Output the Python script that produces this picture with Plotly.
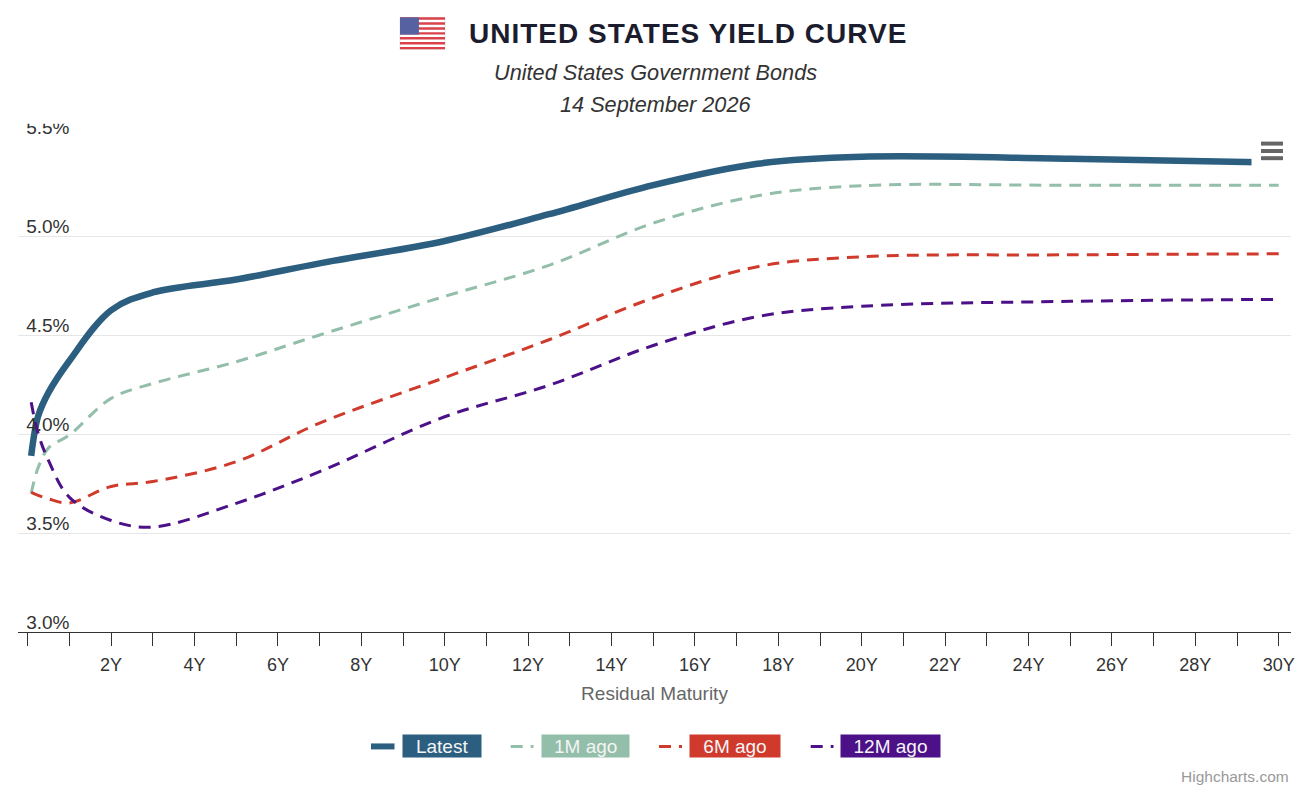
import plotly.graph_objects as go

# ---------------- data ----------------
MATURITIES = [0.083, 0.25, 0.5, 1, 2, 3, 5, 7, 10, 12.5, 15, 17.5, 20, 25, 30]
LATEST = [3.89, 4.09, 4.21, 4.37, 4.625, 4.715, 4.78, 4.862, 4.975, 5.11, 5.257, 5.365, 5.40, 5.39, 5.37]
M1_AGO = [3.70, 3.83, 3.93, 3.995, 4.18, 4.255, 4.365, 4.50, 4.695, 4.852, 5.065, 5.203, 5.254, 5.256, 5.256]
M6_AGO = [3.705, 3.69, 3.672, 3.652, 3.735, 3.76, 3.86, 4.055, 4.285, 4.476, 4.687, 4.845, 4.895, 4.905, 4.91]
M12_AGO = [4.16, 4.003, 3.865, 3.68, 3.563, 3.53, 3.65, 3.81, 4.087, 4.246, 4.447, 4.593, 4.645, 4.67, 4.68]

SERIES_NAMES = ["Latest", "1M ago", "6M ago", "12M ago"]
SERIES_COLORS = ["#2c5e80", "#93bea9", "#d03a2c", "#4c1088"]

X_TICK_VALS = list(range(0, 31))
X_TICK_TEXT = [f"{v}Y" if (v % 2 == 0 and v > 0) else "" for v in X_TICK_VALS]
Y_TICK_VALS = [3.0, 3.5, 4.0, 4.5, 5.0, 5.5]

TITLE = "UNITED STATES YIELD CURVE"
SUBTITLE_1 = "United States Government Bonds"
SUBTITLE_2 = "14 September 2026"
X_TITLE = "Residual Maturity"
CREDITS = "Highcharts.com"

FONT = "Liberation Sans, Arial, sans-serif"

# ---------------- layout geometry (page pixels) ----------------
PAGE_OFF = 8                      # default body margin of the html page
W_FIG, H_FIG = 1312 - PAGE_OFF, 796 - PAGE_OFF
L, R, T, B = 18, 1291, 136.7, 632  # plot area in page pixels
PW, PH = R - L, B - T


def px(x):
    return (x - L) / PW


def py(y):
    return (B - y) / PH


fig = go.Figure()

values = [LATEST, M1_AGO, M6_AGO, M12_AGO]
for i, (name, vals, col) in enumerate(zip(SERIES_NAMES, values, SERIES_COLORS)):
    fig.add_trace(go.Scatter(
        x=MATURITIES, y=vals, name=name, mode="lines",
        line=dict(color=col, width=6.5 if i == 0 else 3,
                  dash="solid" if i == 0 else "12px,8px",
                  shape="spline", smoothing=1.0),
        showlegend=False, hoverinfo="skip",
    ))

shapes = []
annotations = []

# Title flag (decoration)
fx0, fx1, fy0, fy1 = 400, 445, 17, 49
stripe_h = (fy1 - fy0) / 13
shapes.append(dict(type="rect", xref="paper", yref="paper", layer="above",
                   x0=px(fx0), x1=px(fx1), y0=py(fy1), y1=py(fy0),
                   fillcolor="#ffffff", line=dict(color="#cccccc", width=0.5)))
for k in range(0, 13, 2):
    shapes.append(dict(type="rect", xref="paper", yref="paper", layer="above",
                       x0=px(fx0), x1=px(fx1),
                       y0=py(fy0 + (k + 1) * stripe_h), y1=py(fy0 + k * stripe_h),
                       fillcolor="#d9414b", line=dict(width=0)))
shapes.append(dict(type="rect", xref="paper", yref="paper", layer="above",
                   x0=px(fx0), x1=px(fx0 + 0.42 * (fx1 - fx0)),
                   y0=py(fy0 + 7 * stripe_h), y1=py(fy0),
                   fillcolor="#5561a0", line=dict(width=0)))

# Title + subtitles
annotations.append(dict(
    xref="paper", yref="paper", x=px(688), y=py(33), xanchor="center", yanchor="middle",
    text=f"<span style='letter-spacing:1px'><b>{TITLE}</b></span>", showarrow=False,
    font=dict(family=FONT, size=28, color="#1b1d2e")))
annotations.append(dict(
    xref="paper", yref="paper", x=px(655.5), y=py(72), xanchor="center", yanchor="middle",
    text=f"<i>{SUBTITLE_1}</i>", showarrow=False,
    font=dict(family=FONT, size=21.7, color="#333333")))
annotations.append(dict(
    xref="paper", yref="paper", x=px(655.5), y=py(104), xanchor="center", yanchor="middle",
    text=f"<i>{SUBTITLE_2}</i>", showarrow=False,
    font=dict(family=FONT, size=21.7, color="#333333")))

# White mask that clips the top label (as in the reference) and the menu button background
shapes.append(dict(type="rect", xref="paper", yref="paper", layer="above",
                   x0=px(18), x1=px(90), y0=py(123.5), y1=py(112),
                   fillcolor="#ffffff", line=dict(width=0)))
shapes.append(dict(type="rect", xref="paper", yref="paper", layer="above",
                   x0=px(1251.5), x1=px(1293), y0=py(169), y1=py(127),
                   fillcolor="#ffffff", line=dict(width=0)))
for yy in (143.3, 150.7, 157.9):
    shapes.append(dict(type="line", xref="paper", yref="paper", layer="above",
                       x0=px(1261), x1=px(1283), y0=py(yy), y1=py(yy),
                       line=dict(color="#666666", width=4)))

# Custom legend
legend_items = [
    # symbol x0, symbol x1, box x0, box x1
    (371, 394.5, 402.3, 480.7),
    (510.7, 533.5, 541.7, 629),
    (659, 682, 690, 780),
    (810.7, 833.5, 841, 940),
]
LEG_Y = 746.5
for i, (sx0, sx1, bx0, bx1) in enumerate(legend_items):
    col = SERIES_COLORS[i]
    shapes.append(dict(type="line", xref="paper", yref="paper", layer="above",
                       x0=px(sx0), x1=px(sx1), y0=py(LEG_Y), y1=py(LEG_Y),
                       line=dict(color=col, width=6 if i == 0 else 3,
                                 dash="solid" if i == 0 else "12px,8px")))
    annotations.append(dict(
        xref="paper", yref="paper", x=px((bx0 + bx1) / 2), y=py(LEG_Y),
        xanchor="center", yanchor="middle", showarrow=False,
        text=SERIES_NAMES[i], width=bx1 - bx0, height=22, borderpad=0,
        bgcolor=col, font=dict(family=FONT, size=19, color="#f4f4f4")))

# Credits
annotations.append(dict(
    xref="paper", yref="paper", x=px(1291), y=py(777), xanchor="right", yanchor="middle",
    text=CREDITS, showarrow=False, font=dict(family=FONT, size=15.5, color="#999999")))

fig.update_layout(
    width=W_FIG, height=H_FIG,
    margin=dict(l=L - PAGE_OFF, r=1312 - R, t=T - PAGE_OFF, b=796 - B, autoexpand=False),
    paper_bgcolor="#ffffff", plot_bgcolor="#ffffff",
    font=dict(family=FONT, color="#333333"),
    shapes=shapes, annotations=annotations,
    showlegend=False,
    xaxis=dict(
        range=[-0.233, 30.295], tickmode="array", tickvals=X_TICK_VALS, ticktext=X_TICK_TEXT,
        ticks="outside", ticklen=13, tickwidth=1, tickcolor="#333333",
        showline=True, linecolor="#333333", linewidth=1,
        showgrid=False, zeroline=False,
        tickfont=dict(family=FONT, size=18, color="#333333"),
        ticklabelstandoff=3,
        title=dict(text=X_TITLE, font=dict(family=FONT, size=19, color="#666666"), standoff=13),
        fixedrange=True,
    ),
    yaxis=dict(
        range=[3.0, 5.5], tickmode="array", tickvals=Y_TICK_VALS,
        ticktext=[f"{v:.1f}%" for v in Y_TICK_VALS],
        ticks="", showline=False, zeroline=False,
        showgrid=True, gridcolor="#e6e6e6", gridwidth=1,
        anchor="free", position=px(69.5), ticklabelposition="outside",
        ticklabelshift=-10,
        tickfont=dict(family=FONT, size=19, color="#333333"),
        fixedrange=True,
    ),
)

fig.write_html("out.html")
